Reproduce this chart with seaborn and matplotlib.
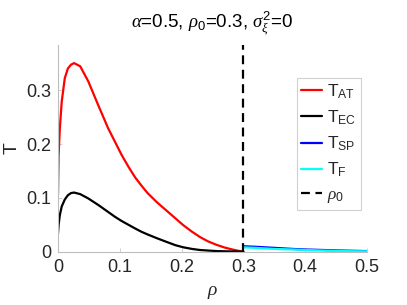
import seaborn as sns
import pandas as pd
import matplotlib
matplotlib.use('Agg')
import matplotlib.pyplot as plt

# valores
rho0 = 0.3
rho_left = [0, 0.001, 0.003, 0.006, 0.011, 0.016, 0.021, 0.026, 0.036, 0.049, 0.065, 0.081,
            0.092, 0.103, 0.114, 0.125, 0.135, 0.145, 0.16, 0.176, 0.19, 0.203, 0.217,
            0.23, 0.243, 0.257, 0.27, 0.284, 0.292, 0.3]
t_at = [0.106, 0.18, 0.23, 0.279, 0.323, 0.341, 0.348, 0.351, 0.345, 0.317, 0.273, 0.230,
        0.205, 0.180, 0.158, 0.138, 0.123, 0.109, 0.092, 0.076, 0.062, 0.049, 0.037,
        0.027, 0.019, 0.0125, 0.0075, 0.0035, 0.0015, 0.0]
t_ec = [0.034, 0.050, 0.068, 0.084, 0.097, 0.105, 0.109, 0.110, 0.107, 0.099, 0.087, 0.074,
        0.065, 0.057, 0.050, 0.043, 0.037, 0.032, 0.025, 0.018, 0.012, 0.008, 0.005,
        0.003, 0.002, 0.001, 0.0006, 0.0003, 0.0001, 0.0]
rho_right = [0.3, 0.32, 0.35, 0.38, 0.4, 0.43, 0.46, 0.5]
t_sp = [0.010, 0.009, 0.007, 0.005, 0.004, 0.003, 0.002, 0.001]
t_f = [0.008, 0.007, 0.005, 0.004, 0.003, 0.002, 0.001, 0.0005]

sns.set_style('ticks')
plt.rcParams['font.family'] = ['Liberation Sans', 'DejaVu Sans']
plt.rcParams['mathtext.fontset'] = 'custom'
plt.rcParams['mathtext.rm'] = 'Liberation Sans'
plt.rcParams['mathtext.it'] = 'Liberation Serif:italic'

left = pd.DataFrame({'rho': rho_left, 'AT': t_at, 'EC': t_ec})
right = pd.DataFrame({'rho': rho_right, 'SP': t_sp, 'F': t_f})

fig = plt.figure(figsize=(4.07, 3.05), dpi=100)
ax = fig.add_axes([0.1425, 0.175, 0.759, 0.678])

sns.lineplot(x='rho', y='AT', data=left, color='#ff0000', lw=1.6, label=r'T$_{\mathrm{AT}}$', ax=ax)
sns.lineplot(x='rho', y='EC', data=left, color='#000000', lw=1.6, label=r'T$_{\mathrm{EC}}$', ax=ax)
sns.lineplot(x='rho', y='SP', data=right, color='#0000ff', lw=1.6, label=r'T$_{\mathrm{SP}}$', ax=ax)
sns.lineplot(x='rho', y='F', data=right, color='#00ffff', lw=1.6, label=r'T$_{\mathrm{F}}$', ax=ax)
ax.axvline(rho0, color='black', ls=(0, (4, 2.5)), lw=1.6, label=r'$\rho_0$')

ax.set_xlim(0, 0.5)
ax.set_ylim(0, 0.385)
ax.set_xticks([0, 0.1, 0.2, 0.3, 0.4, 0.5])
ax.set_xticklabels(['0', '0.1', '0.2', '0.3', '0.4', '0.5'])
ax.set_yticks([0, 0.1, 0.2, 0.3])
ax.set_yticklabels(['0', '0.1', '0.2', '0.3'])
ax.tick_params(direction='in', length=3, width=0.5, colors='#bdbdbd', labelcolor='#262626',
               labelsize=13, pad=5)
for s in ['top', 'right']:
    ax.spines[s].set_visible(False)
for s in ['left', 'bottom']:
    ax.spines[s].set_color('#bdbdbd')
    ax.spines[s].set_linewidth(0.8)

ax.set_xlabel(r'$\rho$', fontsize=14, color='#262626', labelpad=6)
ax.set_ylabel('T', fontsize=14, color='#262626', labelpad=4)
ax.set_title(r'$\alpha$=0.5, $\rho_0$=0.3, $\sigma^2_\xi$=0', fontsize=13.5, color='#000000', pad=12)

leg = ax.legend(loc='upper right', bbox_to_anchor=(0.98, 0.84), fontsize=12.5, frameon=True,
                fancybox=False, framealpha=1, edgecolor='#d0d0d0', handlelength=1.2,
                handletextpad=0.3, labelspacing=0.45, borderpad=0.25, borderaxespad=0)
leg.get_frame().set_linewidth(0.8)

fig.savefig('out.png', dpi=100)
